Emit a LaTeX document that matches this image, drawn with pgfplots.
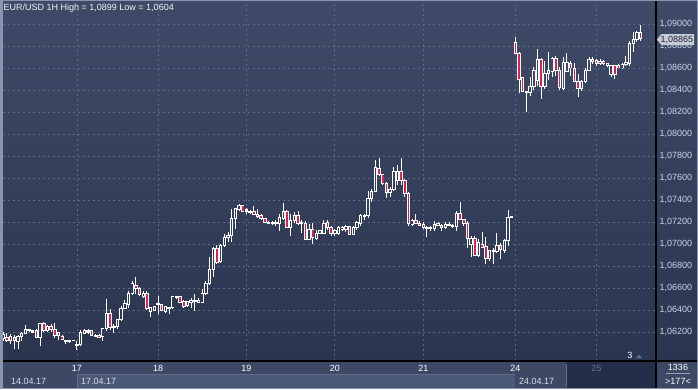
\documentclass[border=0pt]{standalone}
\usepackage{fontspec}
\setmainfont{Liberation Sans}
\usepackage{pgfplots}
\usepackage{pgfplotstable}
\pgfplotsset{compat=1.18}
\definecolor{bgtop}{HTML}{3E4A67}
\definecolor{bgbot}{HTML}{2B3550}
\definecolor{panel}{HTML}{3C4864}
\definecolor{band}{HTML}{4B5977}
\definecolor{bandline}{HTML}{5F6D8A}
\definecolor{darkbox}{HTML}{252E48}
\definecolor{gridc}{HTML}{5A6884}
\definecolor{bear}{HTML}{E0204C}
\definecolor{lbl}{HTML}{C9D5E8}
\definecolor{frame}{HTML}{8795AE}
\definecolor{daygrey}{HTML}{67758F}
\definecolor{zt}{HTML}{3C4865}
\definecolor{zm}{HTML}{343F5C}
\definecolor{zb}{HTML}{2E3855}
\definecolor{tagc}{HTML}{C6CBD4}
\definecolor{datec}{HTML}{D6DEEC}
\definecolor{titlec}{HTML}{EEF2F8}
\definecolor{tagtext}{HTML}{1C2334}
\definecolor{sepline}{HTML}{96A2B6}

\pgfplotstableread{
i O H L C
0 1.0614 1.0620 1.0612 1.0618
1 1.0615 1.0619 1.0611 1.0612
2 1.0612 1.0618 1.0609 1.0616
3 1.0615 1.0617 1.0605 1.0612
4 1.0611 1.0617 1.0605 1.0616
5 1.0616 1.0620 1.0612 1.0619
6 1.0619 1.0626 1.0619 1.0622
7 1.0621 1.0623 1.0620 1.0622
8 1.0620 1.0622 1.0619 1.0621
9 1.0621 1.0623 1.0615 1.0615
10 1.0615 1.0628 1.0607 1.0628
11 1.0628 1.0629 1.0620 1.0621
12 1.0621 1.0626 1.0620 1.0625
13 1.0625 1.0627 1.0620 1.0622
14 1.0622 1.0628 1.0615 1.0617
15 1.0617 1.0620 1.0613 1.0620
16 1.0616 1.0617 1.0613 1.0613
17 1.0611 1.0613 1.0609 1.0612
18 1.0612 1.0612 1.0610 1.0611
19 1.0612 1.0612 1.0612 1.0612
20 1.0609 1.0612 1.0604 1.0608
21 1.0609 1.0622 1.0607 1.0620
22 1.0619 1.0623 1.0618 1.0621
23 1.0620 1.0623 1.0618 1.0621
24 1.0621 1.0622 1.0616 1.0617
25 1.0616 1.0618 1.0616 1.0617
26 1.0617 1.0618 1.0615 1.0615
27 1.0616 1.0624 1.0612 1.0623
28 1.0623 1.0650 1.0621 1.0637
29 1.0637 1.0641 1.0622 1.0624
30 1.0624 1.0627 1.0619 1.0625
31 1.0625 1.0632 1.0623 1.0631
32 1.0631 1.0644 1.0630 1.0641
33 1.0641 1.0649 1.0641 1.0646
34 1.0645 1.0657 1.0642 1.0655
35 1.0655 1.0666 1.0654 1.0664
36 1.0662 1.0670 1.0655 1.0660
37 1.0660 1.0661 1.0653 1.0654
38 1.0652 1.0657 1.0651 1.0655
39 1.0655 1.0657 1.0640 1.0641
40 1.0639 1.0643 1.0634 1.0642
41 1.0640 1.0644 1.0639 1.0643
42 1.0645 1.0653 1.0636 1.0646
43 1.0645 1.0645 1.0640 1.0640
44 1.0639 1.0643 1.0637 1.0643
45 1.0642 1.0642 1.0636 1.0641
46 1.0642 1.0653 1.0641 1.0652
47 1.0652 1.0653 1.0650 1.0651
48 1.0652 1.0653 1.0647 1.0647
49 1.0648 1.0649 1.0642 1.0643
50 1.0644 1.0648 1.0643 1.0648
51 1.0647 1.0651 1.0642 1.0649
52 1.0649 1.0655 1.0639 1.0648
53 1.0647 1.0651 1.0646 1.0649
54 1.0647 1.0659 1.0646 1.0655
55 1.0655 1.0666 1.0654 1.0664
56 1.0664 1.0688 1.0663 1.0677
57 1.0677 1.0697 1.0670 1.0696
58 1.0696 1.0699 1.0682 1.0683
59 1.0684 1.0700 1.0683 1.0699
60 1.0699 1.0709 1.0697 1.0706
61 1.0706 1.0711 1.0702 1.0708
62 1.0708 1.0732 1.0702 1.0723
63 1.0723 1.0733 1.0714 1.0732
64 1.0731 1.0736 1.0730 1.0735
65 1.0735 1.0735 1.0729 1.0730
66 1.0730 1.0733 1.0727 1.0731
67 1.0729 1.0731 1.0727 1.0730
68 1.0730 1.0735 1.0726 1.0727
69 1.0727 1.0732 1.0724 1.0725
70 1.0726 1.0727 1.0722 1.0723
71 1.0723 1.0724 1.0719 1.0720
72 1.0720 1.0721 1.0718 1.0719
73 1.0719 1.0721 1.0717 1.0720
74 1.0719 1.0722 1.0716 1.07195
75 1.0719 1.0727 1.0712 1.0724
76 1.0723 1.0737 1.0722 1.0730
77 1.0730 1.0731 1.0715 1.0715
78 1.0715 1.0727 1.0707 1.0721
79 1.0721 1.0729 1.0719 1.0726
80 1.0726 1.0730 1.0717 1.0719
81 1.0719 1.0722 1.0710 1.07195
82 1.0719 1.0721 1.0704 1.0704
83 1.0704 1.0718 1.0704 1.0713
84 1.0713 1.0719 1.0700 1.0706
85 1.0705 1.0713 1.0704 1.0710
86 1.0710 1.0713 1.0709 1.0712
87 1.0710 1.0722 1.0709 1.0719
88 1.0720 1.0722 1.0713 1.0715
89 1.0715 1.0716 1.0707 1.0710
90 1.0710 1.0714 1.0707 1.0712
91 1.0710 1.0716 1.0708 1.0715
92 1.0713 1.0716 1.0712 1.0715
93 1.0713 1.0717 1.0711 1.0716
94 1.0716 1.0716 1.0708 1.0709
95 1.0709 1.0716 1.0708 1.0715
96 1.0715 1.0721 1.0713 1.0720
97 1.0719 1.0727 1.0716 1.0726
98 1.0725 1.0727 1.0722 1.0726
99 1.0726 1.0748 1.0724 1.0741
100 1.0741 1.0750 1.0738 1.0748
101 1.0748 1.0776 1.0748 1.0770
102 1.0769 1.0778 1.0762 1.0763
103 1.0763 1.0764 1.0754 1.0755
104 1.0755 1.0756 1.0742 1.0747
105 1.0747 1.0752 1.0743 1.0750
106 1.0750 1.0770 1.0748 1.0766
107 1.0758 1.0772 1.0754 1.0766
108 1.0766 1.0778 1.0754 1.0758
109 1.0758 1.0759 1.0743 1.0746
110 1.0746 1.0747 1.0716 1.0719
111 1.0718 1.0723 1.0716 1.0721
112 1.0721 1.0727 1.0718 1.0719
113 1.0719 1.0721 1.0716 1.0717
114 1.0718 1.0720 1.0714 1.0715
115 1.0715 1.0716 1.0706 1.0714
116 1.0714 1.0716 1.0712 1.0715
117 1.0714 1.0721 1.0712 1.0718
118 1.0717 1.0720 1.0716 1.0719
119 1.0717 1.0718 1.0712 1.0715
120 1.0715 1.0720 1.0714 1.0718
121 1.0717 1.0720 1.0716 1.0718
122 1.0716 1.0718 1.0715 1.0717
123 1.0716 1.0730 1.0712 1.0728
124 1.0728 1.0738 1.0722 1.0722
125 1.0722 1.0723 1.0716 1.0719
126 1.0719 1.0721 1.0696 1.0705
127 1.0700 1.0707 1.0688 1.0705
128 1.0705 1.0707 1.0690 1.0690
129 1.0690 1.0705 1.0688 1.0701
130 1.0700 1.0711 1.0697 1.0697
131 1.0698 1.0706 1.0682 1.0687
132 1.0687 1.0694 1.0685 1.0694
133 1.0694 1.0696 1.0682 1.0693
134 1.0693 1.0710 1.0692 1.0699
135 1.0699 1.0701 1.0686 1.0695
136 1.0694 1.0705 1.0692 1.0703
137 1.0703 1.0731 1.0698 1.0724
138 1.0724 1.0725 1.0724 1.0725
139 1.0883 1.0888 1.0873 1.0873
140 1.0873 1.0875 1.0837 1.0850
141 1.0851 1.0852 1.0839 1.0839
142 1.0839 1.0839 1.0820 1.0838
143 1.0838 1.0852 1.0835 1.0843
144 1.0843 1.0861 1.0840 1.0858
145 1.0849 1.0877 1.0844 1.0868
146 1.0868 1.0869 1.0832 1.0843
147 1.0843 1.0866 1.0841 1.0855
148 1.0855 1.0875 1.0849 1.0858
149 1.0857 1.0870 1.0852 1.0869
150 1.0869 1.0871 1.0853 1.0858
151 1.0858 1.0861 1.0840 1.0842
152 1.0841 1.0870 1.0840 1.0865
153 1.0857 1.0874 1.0856 1.0865
154 1.0864 1.0866 1.0853 1.0860
155 1.0860 1.0865 1.0847 1.0848
156 1.0848 1.0855 1.0834 1.0841
157 1.0841 1.0849 1.0839 1.0848
158 1.0848 1.0860 1.0846 1.0858
159 1.0858 1.0870 1.0857 1.0868
160 1.0868 1.0870 1.0864 1.0866
161 1.0867 1.0868 1.0862 1.0864
162 1.0864 1.0868 1.0863 1.0866
163 1.0866 1.0867 1.0863 1.0864
164 1.0864 1.0865 1.0861 1.0862
165 1.0854 1.0863 1.0852 1.0862
166 1.0862 1.0863 1.0850 1.0854
167 1.0862 1.0864 1.0860 1.0860
168 1.0860 1.0865 1.0859 1.0863
169 1.0863 1.0871 1.0862 1.0865
170 1.0864 1.0885 1.0862 1.0882
171 1.0882 1.0893 1.0875 1.0886
172 1.0886 1.0894 1.0884 1.0892
173 1.0892 1.0899 1.0885 1.08865
}\candles

\begin{document}
\begin{tikzpicture}[font=\fontsize{9bp}{11bp}\selectfont]
% backgrounds
\fill[panel] (0,0) rectangle (698bp,389bp);
\shade[top color=bgtop, bottom color=bgbot] (0,28bp) rectangle (698bp,389bp);
\begin{scope}[x=1bp,y=-1bp,shift={(0,389bp)}]
  \fill[band] (77,374) rectangle (515,389);
  \draw[bandline, line width=1bp] (77,389) -- (77,374) -- (515,374);
  \fill[darkbox] (566,362) rectangle (655,389);
  \draw[bandline, line width=1bp] (566.5,364) -- (566.5,387);
  \node[anchor=west, text=datec, inner sep=0pt] at (11,381) {14.04.17};
  \node[anchor=west, text=datec, inner sep=0pt] at (81,381) {17.04.17};
  \node[anchor=west, text=datec, inner sep=0pt] at (519,381) {24.04.17};
\end{scope}

\begin{axis}[
  at={(3bp,28bp)}, anchor=south west,
  scale only axis, width=652bp, height=358bp,
  xmin=-0.081, xmax=176.9,
  ymin=1.0593636, ymax=1.0919091,
  axis line style={draw=none},
  major tick length=0pt,
  xtick={20,42,66,90,114,139,161},
  xticklabels={17,18,19,20,21,24,{\textcolor{daygrey}{25}}},
  xticklabel style={text=white, font=\fontsize{9bp}{11bp}\selectfont, yshift=-0.5bp},
  ytick={1.062,1.064,1.066,1.068,1.070,1.072,1.074,1.076,1.078,1.080,1.082,1.084,1.086,1.088,1.090},
  yticklabels={{1,06200},{1,06400},{1,06600},{1,06800},{1,07000},{1,07200},{1,07400},{1,07600},{1,07800},{1,08000},{1,08200},{1,08400},{1,08600},{1,08800},{1,09000}},
  yticklabel pos=right,
  yticklabel style={text=lbl, font=\fontsize{9bp}{11bp}\selectfont, xshift=1bp},
  grid=major,
  major grid style={gridc, dash pattern=on 2bp off 3bp, line width=0.8bp},
  unbounded coords=discard,
]
% wicks
\addplot[draw=none, mark=none, error bars/.cd, y dir=plus, y explicit, error mark=none,
  error bar style={draw=white, solid, line width=1bp}]
  table[x=i, y=L, y error plus expr=\thisrow{H}-\thisrow{L}] {\candles};
% white bodies
\addplot[draw=none, mark=none, error bars/.cd, y dir=plus, y explicit, error mark=none,
  error bar style={draw=white, solid, line width=3.4bp}]
  table[x=i, y expr={min(\thisrow{O},\thisrow{C})-0.0000455}, y error plus expr={abs(\thisrow{C}-\thisrow{O})+0.000091}] {\candles};
% bear inner
\addplot[draw=none, mark=none, error bars/.cd, y dir=plus, y explicit, error mark=none,
  error bar style={draw=bear, solid, line width=1.5bp}]
  table[x=i, y expr={(\thisrow{O}-\thisrow{C}>0.00012) ? \thisrow{C}+0.0000455 : nan}, y error plus expr={\thisrow{O}-\thisrow{C}-0.000091}] {\candles};
% bull inner (hollow), three zones
\addplot[draw=none, mark=none, restrict x to domain=0:55.5, error bars/.cd, y dir=plus, y explicit, error mark=none,
  error bar style={draw=zb, solid, line width=1.5bp}]
  table[x=i, y expr={(\thisrow{C}-\thisrow{O}>0.00012) ? \thisrow{O}+0.0000455 : nan}, y error plus expr={\thisrow{C}-\thisrow{O}-0.000091}] {\candles};
\addplot[draw=none, mark=none, restrict x to domain=55.5:138.5, error bars/.cd, y dir=plus, y explicit, error mark=none,
  error bar style={draw=zm, solid, line width=1.5bp}]
  table[x=i, y expr={(\thisrow{C}-\thisrow{O}>0.00012) ? \thisrow{O}+0.0000455 : nan}, y error plus expr={\thisrow{C}-\thisrow{O}-0.000091}] {\candles};
\addplot[draw=none, mark=none, restrict x to domain=138.5:180, error bars/.cd, y dir=plus, y explicit, error mark=none,
  error bar style={draw=zt, solid, line width=1.5bp}]
  table[x=i, y expr={(\thisrow{C}-\thisrow{O}>0.00012) ? \thisrow{O}+0.0000455 : nan}, y error plus expr={\thisrow{C}-\thisrow{O}-0.000091}] {\candles};
\end{axis}

\begin{scope}[x=1bp,y=-1bp,shift={(0,389bp)}]
  % black separators
  \fill[black] (0,360) rectangle (698,362);
  \fill[black] (654.7,0) rectangle (656.5,389);
  % frame
  \fill[frame] (0,0) rectangle (2.6,389);
  \fill[frame] (0,388) rectangle (698,389);
  \fill[frame] (0,0) rectangle (698,0.8);
  \fill[frame] (697.2,0) rectangle (698,389);
  % title
  \node[anchor=west, text=titlec, inner sep=0pt] at (3.5,8.5) {EUR/USD 1H High = 1,0899 Low = 1,0604};
  % current price tag
  \fill[tagc] (656.8,39.5) -- (661.5,34) -- (694,34) -- (694,45) -- (661.5,45) -- cycle;
  \node[anchor=west, text=tagtext, inner sep=0pt] at (660.5,39.8) {1,08865};
  % small marker bottom right
  \node[anchor=center, text=white, inner sep=0pt] at (630,355) {3};
  \fill[daygrey] (636,358) -- (642,358) -- (639,355) -- cycle;
  % right box
  \node[anchor=center, text=white, inner sep=0pt] at (678,367.5) {1336};
  \draw[sepline, line width=0.8bp] (666,373.5) -- (690,373.5);
  \node[anchor=center, text=white, inner sep=0pt] at (678,381) {>177<};
\end{scope}
\end{tikzpicture}
\end{document}
